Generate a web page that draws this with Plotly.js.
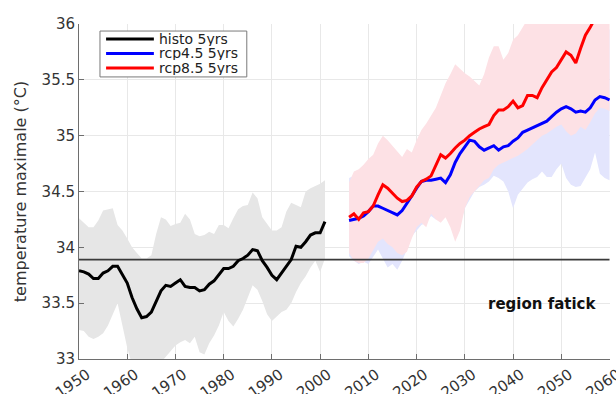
<!DOCTYPE html>
<html>
<head>
<meta charset="utf-8">
<script src="https://cdn.plot.ly/plotly-3.0.1.min.js"></script>
<style>
  html, body { margin: 0; padding: 0; background: #ffffff; }
  #chart { width: 616px; height: 394px; }
</style>
</head>
<body>
<div id="chart"></div>
<script>
// Historical run, 5-year smoothed, 1950-2001
const histoYears = [];
for (let y = 1950; y <= 2001; y++) histoYears.push(y);
const histoMean = [
  33.79, 33.78, 33.76, 33.72, 33.72, 33.77, 33.79, 33.83, 33.83, 33.76,
  33.68, 33.55, 33.45, 33.37, 33.38, 33.42, 33.52, 33.61, 33.66, 33.65,
  33.68, 33.71, 33.65, 33.64, 33.64, 33.61, 33.62, 33.67, 33.70, 33.75,
  33.81, 33.81, 33.83, 33.88, 33.90, 33.93, 33.98, 33.97, 33.88, 33.82,
  33.75, 33.71, 33.77, 33.83, 33.89, 34.01, 34.00, 34.05, 34.11, 34.13,
  34.13, 34.23
];
const histoUpper = [
  34.26, 34.22, 34.18, 34.18, 34.24, 34.33, 34.34, 34.35, 34.20, 34.15,
  34.08, 34.00, 33.95, 33.90, 33.90, 33.93, 34.12, 34.27, 34.25, 34.19,
  34.21, 34.22, 34.30, 34.25, 34.12, 34.10, 34.11, 34.14, 34.12, 34.20,
  34.20, 34.17, 34.26, 34.34, 34.37, 34.38, 34.49, 34.44, 34.27, 34.21,
  34.15, 34.15, 34.18, 34.32, 34.40, 34.38, 34.36, 34.50, 34.53, 34.55,
  34.57, 34.60
];
const histoLower = [
  33.26, 33.25, 33.20, 33.18, 33.20, 33.23, 33.30, 33.40, 33.50, 33.30,
  33.10, 32.95, 32.90, 32.88, 32.88, 32.90, 32.93, 32.97, 33.02, 33.08,
  33.12, 33.15, 33.17, 33.14, 33.20, 33.06, 33.04, 33.14, 33.21, 33.30,
  33.42, 33.34, 33.29, 33.36, 33.44, 33.55, 33.66, 33.62, 33.52, 33.40,
  33.34, 33.38, 33.42, 33.44, 33.50, 33.60, 33.68, 33.74, 33.82, 33.88,
  33.78, 33.90
];

// Scenario runs, 5-year smoothed, 2006-2060
const rcpYears = [];
for (let y = 2006; y <= 2060; y++) rcpYears.push(y);
const rcp45Mean = [
  34.24, 34.25, 34.26, 34.28, 34.32, 34.37, 34.37, 34.35, 34.33, 34.31,
  34.29, 34.33, 34.39, 34.46, 34.53, 34.59, 34.60, 34.60, 34.61, 34.62,
  34.58, 34.65, 34.76, 34.84, 34.90, 34.96, 34.95, 34.90, 34.87, 34.89,
  34.91, 34.87, 34.90, 34.91, 34.95, 34.98, 35.03, 35.05, 35.07, 35.09,
  35.11, 35.13, 35.17, 35.21, 35.24, 35.26, 35.24, 35.21, 35.22, 35.21,
  35.25, 35.32, 35.35, 35.34, 35.32
];
const rcp45Upper = [
  34.62, 34.64, 34.63, 34.66, 34.70, 34.75, 34.80, 34.82, 34.78, 34.75,
  34.72, 34.70, 34.74, 34.78, 34.85, 34.92, 34.95, 35.00, 35.05, 35.12,
  35.20, 35.28, 35.35, 35.38, 35.35, 35.30, 35.28, 35.30, 35.35, 35.42,
  35.48, 35.50, 35.45, 35.50, 35.55, 35.60, 35.62, 35.65, 35.68, 35.70,
  35.72, 35.75, 35.78, 35.80, 35.82, 35.85, 35.83, 35.82, 35.85, 35.88,
  35.90, 35.95, 35.98, 35.97, 35.95
];
const rcp45Lower = [
  33.92, 33.88, 33.85, 33.87, 33.85, 33.92, 33.98, 33.90, 33.82, 33.85,
  33.80, 33.88, 33.98, 34.10, 34.15, 34.20, 34.22, 34.28, 34.25, 34.32,
  34.30, 34.20, 34.12, 34.20, 34.35, 34.42, 34.50, 34.54, 34.56, 34.59,
  34.64, 34.62, 34.59, 34.50, 34.35, 34.47, 34.52, 34.58, 34.61, 34.63,
  34.68, 34.63, 34.63, 34.70, 34.75, 34.62, 34.56, 34.54, 34.55, 34.62,
  34.70, 34.85, 34.66, 34.62, 34.60
];
const rcp85Mean = [
  34.27, 34.30, 34.25, 34.31, 34.32, 34.37, 34.47, 34.56, 34.53, 34.48,
  34.44, 34.41, 34.42, 34.46, 34.54, 34.59, 34.61, 34.64, 34.74, 34.83,
  34.80, 34.84, 34.89, 34.93, 34.96, 35.00, 35.03, 35.06, 35.08, 35.10,
  35.18, 35.23, 35.23, 35.26, 35.31, 35.25, 35.27, 35.36, 35.36, 35.34,
  35.43, 35.50, 35.57, 35.61, 35.68, 35.75, 35.72, 35.65, 35.78, 35.90,
  35.97, 36.06, 36.14, 36.22, 36.30
];
const rcp85Upper = [
  34.58, 34.68, 34.70, 34.74, 34.79, 34.83, 34.93, 35.00, 34.96, 34.91,
  34.86, 34.81, 34.88, 34.85, 34.96, 35.05, 35.11, 35.18, 35.25, 35.36,
  35.47, 35.55, 35.64, 35.60, 35.56, 35.53, 35.49, 35.45, 35.55, 35.70,
  35.80, 35.80, 35.68, 35.74, 35.86, 35.90, 35.97, 36.05, 36.12, 36.15,
  36.20, 36.25, 36.30, 36.35, 36.40, 36.45, 36.40, 36.45, 36.50, 36.60,
  36.65, 36.70, 36.75, 36.80, 36.85
];
const rcp85Lower = [
  33.95, 33.88, 33.86, 33.86, 33.90, 33.97, 34.05, 34.08, 34.03, 34.00,
  33.95, 33.93, 33.96, 34.08, 34.18, 34.22, 34.18, 34.30, 34.25, 34.22,
  34.27, 34.18, 34.05, 34.15, 34.35, 34.45, 34.50, 34.54, 34.60, 34.62,
  34.70, 34.74, 34.76, 34.78, 34.80, 34.82, 34.85, 34.88, 34.92, 34.96,
  35.00, 35.02, 35.05, 35.08, 35.10, 35.04, 35.00, 35.02, 35.08, 35.05,
  35.12, 35.20, 35.25, 35.24, 35.22
];

// Reference level (historical mean) drawn across the whole period
const refLevel = 33.89;
const refSpan = [1950, 2060];

const seriesNames = ['histo 5yrs', 'rcp4.5 5yrs', 'rcp8.5 5yrs'];
const regionLabel = 'region fatick';
const yTitle = 'temperature maximale (°C)';
const xTicks = [1950, 1960, 1970, 1980, 1990, 2000, 2010, 2020, 2030, 2040, 2050, 2060];
const yTicks = [33, 33.5, 34, 34.5, 35, 35.5, 36];

const colHisto = '#000000', colR45 = '#0000ff', colR85 = '#ff0000';
const fillHisto = '#e6e6e6', fillR45 = '#e3e5fd', fillR85 = '#fde1e5';

function band(x, lo, hi, fill) {
  return [
    { x: x, y: lo, type: 'scatter', mode: 'lines', line: { width: 0, color: fill },
      showlegend: false, hoverinfo: 'skip' },
    { x: x, y: hi, type: 'scatter', mode: 'lines', line: { width: 0, color: fill },
      fill: 'tonexty', fillcolor: fill, showlegend: false, hoverinfo: 'skip' }
  ];
}

const traces = [].concat(
  band(histoYears, histoLower, histoUpper, fillHisto),
  band(rcpYears, rcp45Lower, rcp45Upper, fillR45),
  band(rcpYears, rcp85Lower, rcp85Upper, fillR85),
  [
    { x: refSpan, y: [refLevel, refLevel], type: 'scatter', mode: 'lines',
      line: { color: '#3a3a3a', width: 1.6 }, showlegend: false },
    { x: histoYears, y: histoMean, type: 'scatter', mode: 'lines', name: seriesNames[0],
      line: { color: colHisto, width: 3 }, showlegend: false },
    { x: rcpYears, y: rcp45Mean, type: 'scatter', mode: 'lines', name: seriesNames[1],
      line: { color: colR45, width: 3 }, showlegend: false },
    { x: rcpYears, y: rcp85Mean, type: 'scatter', mode: 'lines', name: seriesNames[2],
      line: { color: colR85, width: 3 }, showlegend: false }
  ]
);

// Legend box drawn in paper coordinates (compact MATLAB-like layout)
const lg = { x0: 0.0395, x1: 0.316, y0: 0.842, y1: 0.979, lx0: 0.051, lx1: 0.141, tx: 0.149 };
const rowsY = [0.955, 0.912, 0.869];
const legendCols = [colHisto, colR45, colR85];

const shapes = [
  { type: 'rect', xref: 'paper', yref: 'paper', x0: lg.x0, x1: lg.x1, y0: lg.y0, y1: lg.y1,
    line: { color: '#7a7a7a', width: 1 }, fillcolor: '#ffffff', layer: 'above' }
];
const annotations = [
  { x: 2046, y: 33.49, xref: 'x', yref: 'y', text: regionLabel, showarrow: false,
    font: { family: 'DejaVu Sans', size: 15, color: '#111111', weight: 'bold' } }
];
seriesNames.forEach((nm, i) => {
  shapes.push({ type: 'line', xref: 'paper', yref: 'paper', x0: lg.lx0, x1: lg.lx1,
    y0: rowsY[i], y1: rowsY[i], line: { color: legendCols[i], width: 3 }, layer: 'above' });
  annotations.push({ x: lg.tx, y: rowsY[i], xref: 'paper', yref: 'paper', text: nm,
    showarrow: false, xanchor: 'left', yanchor: 'middle', height: 14, borderpad: 0,
    font: { family: 'DejaVu Sans', size: 14, color: '#222222' } });
});

const axisCommon = {
  showline: true, linecolor: '#6e6e6e', linewidth: 1,
  ticks: 'inside', ticklen: 5, tickcolor: '#6e6e6e',
  showgrid: true, gridcolor: '#e8e8e8', gridwidth: 1,
  zeroline: false, fixedrange: true,
  tickfont: { family: 'DejaVu Sans', size: 15, color: '#333333' }
};

const layout = {
  width: 616, height: 394,
  margin: { l: 79, r: 6, t: 24, b: 35, pad: 0 },
  paper_bgcolor: '#ffffff', plot_bgcolor: '#ffffff',
  showlegend: false, hovermode: false,
  xaxis: Object.assign({}, axisCommon, {
    range: [1950, 2060.1], tickmode: 'array', tickvals: xTicks,
    ticktext: xTicks.map(String), tickangle: -35,
    ticklabelshift: 8, ticklabeloverflow: 'allow'
  }),
  yaxis: Object.assign({}, axisCommon, {
    range: [33, 36], tickmode: 'array', tickvals: yTicks,
    ticktext: yTicks.map(String),
    title: { text: yTitle, standoff: 10,
      font: { family: 'DejaVu Sans', size: 16, color: '#333333' } }
  }),
  shapes: shapes,
  annotations: annotations
};

Plotly.newPlot('chart', traces, layout, { staticPlot: true, displayModeBar: false });
</script>
</body>
</html>
